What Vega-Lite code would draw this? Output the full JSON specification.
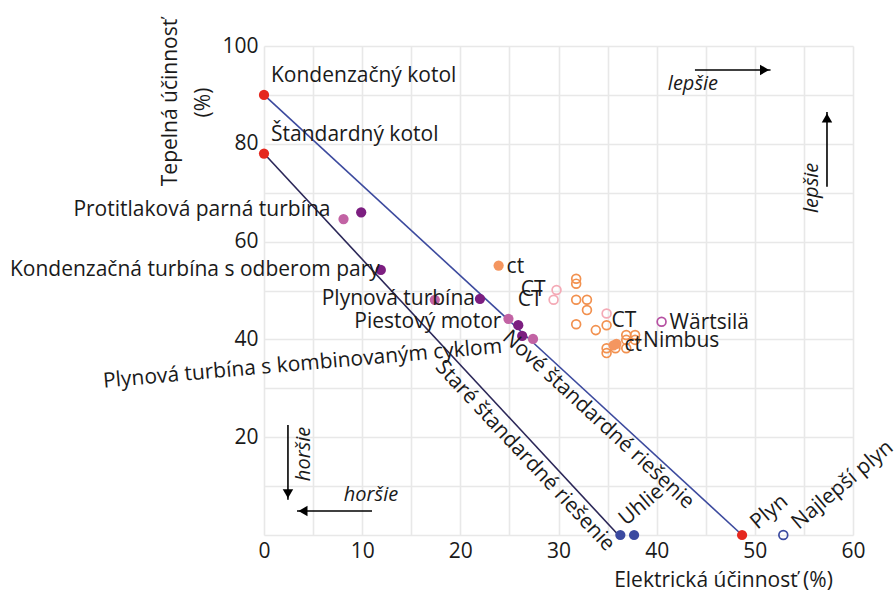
{
  "$schema": "https://vega.github.io/schema/vega-lite/v6.json",
  "width": 589,
  "height": 489,
  "autosize": "none",
  "padding": {"left": 264, "top": 46, "right": 42, "bottom": 58},
  "background": "white",
  "config": {
    "view": {"stroke": null},
    "font": "Open Sans",
    "axis": {
      "labelFont": "Open Sans",
      "labelFontSize": 21,
      "labelColor": "#1a1a1a",
      "labelFlush": false,
      "labelOverlap": false,
      "titleFont": "Open Sans",
      "titleFontSize": 21,
      "titleFontWeight": "normal",
      "titleColor": "#1a1a1a",
      "gridColor": "#e8e8e8",
      "gridWidth": 1.6,
      "ticks": false,
      "domain": false
    }
  },
  "datasets": {
    "pts": [
      {"x": 0, "y": 90, "g": "zaklad", "f": "filled"},
      {"x": 0, "y": 78, "g": "zaklad", "f": "filled"},
      {"x": 48.7, "y": 0, "g": "zaklad", "f": "filled"},
      {"x": 36.3, "y": 0, "g": "uhlie", "f": "filled"},
      {"x": 37.7, "y": 0, "g": "uhlie", "f": "filled"},
      {"x": 52.9, "y": 0, "g": "uhlie", "f": "open"},
      {"x": 8.1, "y": 64.6, "g": "tech_b", "f": "filled"},
      {"x": 9.9, "y": 66.0, "g": "tech_a", "f": "filled"},
      {"x": 11.9, "y": 54.2, "g": "tech_a", "f": "filled"},
      {"x": 17.4, "y": 48.1, "g": "tech_b", "f": "filled"},
      {"x": 22.0, "y": 48.3, "g": "tech_a", "f": "filled"},
      {"x": 24.9, "y": 44.2, "g": "tech_b", "f": "filled"},
      {"x": 25.9, "y": 42.9, "g": "tech_a", "f": "filled"},
      {"x": 26.3, "y": 40.7, "g": "tech_a", "f": "filled"},
      {"x": 27.4, "y": 40.1, "g": "tech_b", "f": "filled"},
      {"x": 23.9, "y": 55.1, "g": "ct", "f": "filled"},
      {"x": 29.8, "y": 50.1, "g": "ct_pale", "f": "open"},
      {"x": 29.5, "y": 48.1, "g": "ct_pale", "f": "open"},
      {"x": 34.9, "y": 45.3, "g": "ct_pale", "f": "open"},
      {"x": 31.8, "y": 52.4, "g": "ct_open", "f": "open"},
      {"x": 31.8, "y": 51.4, "g": "ct_open", "f": "open"},
      {"x": 31.8, "y": 48.1, "g": "ct_open", "f": "open"},
      {"x": 32.9, "y": 48.1, "g": "ct_open", "f": "open"},
      {"x": 32.9, "y": 46.0, "g": "ct_open", "f": "open"},
      {"x": 31.8, "y": 43.1, "g": "ct_open", "f": "open"},
      {"x": 33.8, "y": 41.9, "g": "ct_open", "f": "open"},
      {"x": 34.9, "y": 42.9, "g": "ct_open", "f": "open"},
      {"x": 36.9, "y": 40.9, "g": "ct_open", "f": "open"},
      {"x": 37.8, "y": 40.9, "g": "ct_open", "f": "open"},
      {"x": 36.9, "y": 39.9, "g": "ct_open", "f": "open"},
      {"x": 37.8, "y": 39.9, "g": "ct_open", "f": "open"},
      {"x": 34.9, "y": 38.2, "g": "ct_open", "f": "open"},
      {"x": 34.9, "y": 37.2, "g": "ct_open", "f": "open"},
      {"x": 35.8, "y": 38.2, "g": "ct_open", "f": "open"},
      {"x": 36.9, "y": 38.2, "g": "ct_open", "f": "open"},
      {"x": 35.9, "y": 39.1, "g": "ct", "f": "filled"},
      {"x": 35.6, "y": 38.8, "g": "ct", "f": "filled"},
      {"x": 40.5, "y": 43.6, "g": "wartsila", "f": "open"}
    ],
    "labs": [
      {"label": "Kondenzačný kotol", "x": 0, "y": 90},
      {"label": "Štandardný kotol", "x": 0, "y": 78},
      {"label": "Protitlaková parná turbína", "x": 8.1, "y": 64.6},
      {"label": "Kondenzačná turbína s odberom pary", "x": 11.9, "y": 54.2},
      {"label": "Plynová turbína", "x": 22.0, "y": 48.3},
      {"label": "Piestový motor", "x": 24.9, "y": 44.2},
      {"label": "Plynová turbína s kombinovaným cyklom", "x": 26.3, "y": 40.7},
      {"label": "ct", "x": 23.9, "y": 55.1},
      {"label": "CT", "x": 29.8, "y": 50.1},
      {"label": "CT", "x": 29.5, "y": 48.1},
      {"label": "CT ", "x": 34.9, "y": 45.3},
      {"label": "ct", "x": 35.9, "y": 39.1},
      {"label": "Nimbus", "x": 37.8, "y": 39.9},
      {"label": "Wärtsilä", "x": 40.5, "y": 43.6},
      {"label": "Nové štandardné riešenie", "x": 48.7, "y": 0},
      {"label": "Staré štandardné riešenie", "x": 36.3, "y": 0},
      {"label": "Uhlie", "x": 36.3, "y": 0},
      {"label": "Plyn", "x": 48.7, "y": 0},
      {"label": "Najlepší plyn", "x": 52.9, "y": 0}
    ],
    "lines": [
      {"s": "Staré štandardné riešenie", "x": 0, "y": 78, "x2": 36.1, "y2": 0},
      {"s": "Nové štandardné riešenie", "x": 0, "y": 90, "x2": 48.7, "y2": 0}
    ],
    "arrows": [
      {"name": "lepsie_h", "label": "lepšie", "x": 43.9, "y": 95.1, "x2": 51.6, "y2": 95.1},
      {"name": "lepsie_v", "label": "lepšie", "x": 57.35, "y": 71.2, "x2": 57.35, "y2": 86.5},
      {"name": "horsie_v", "label": "horšie", "x": 2.44, "y": 22.5, "x2": 2.44, "y2": 7.2},
      {"name": "horsie_h", "label": "horšie", "x": 11.0, "y": 4.9, "x2": 3.36, "y2": 4.9}
    ]
  },
  "layer": [
    {
      "data": {"name": "lines"},
      "transform": [{"filter": "datum.s === 'Staré štandardné riešenie'"}],
      "mark": {"type": "rule", "color": "#2b2758", "strokeWidth": 1.6},
      "encoding": {
        "x": {
          "field": "x", "type": "quantitative",
          "scale": {"domain": [0, 60], "nice": false, "zero": false},
          "axis": {
            "title": "Elektrická účinnosť (%)",
            "values": [0, 5, 10, 15, 20, 25, 30, 35, 40, 45, 50, 55, 60],
            "labelExpr": "datum.value % 10 === 0 ? datum.label : ''",
            "labelPadding": 5,
            "titleX": 459, "titleY": 45,
            "titleAlign": "center", "titleBaseline": "middle"
          }
        },
        "y": {
          "field": "y", "type": "quantitative",
          "scale": {"domain": [0, 100], "nice": false, "zero": false},
          "axis": {
            "title": ["Tepelná účinnosť", "(%)"],
            "values": [0, 10, 20, 30, 40, 50, 60, 70, 80, 90, 100],
            "labelExpr": "datum.value % 20 === 0 && datum.value > 0 ? datum.label : ''",
            "labelPadding": 6,
            "titleAngle": -90,
            "titleX": -94, "titleY": 56,
            "titleAlign": "center", "titleBaseline": "middle",
            "titleLineHeight": 33
          }
        },
        "x2": {"field": "x2"},
        "y2": {"field": "y2"}
      }
    },
    {
      "data": {"name": "lines"},
      "transform": [{"filter": "datum.s === 'Nové štandardné riešenie'"}],
      "mark": {"type": "rule", "color": "#3c4a9e", "strokeWidth": 1.6},
      "encoding": {
        "x": {"field": "x", "type": "quantitative"},
        "y": {"field": "y", "type": "quantitative"},
        "x2": {"field": "x2"},
        "y2": {"field": "y2"}
      }
    },
    {
      "data": {"name": "pts"},
      "transform": [{"filter": "datum.f === 'open'"}],
      "mark": {"type": "point", "shape": "circle", "filled": false, "size": 78, "strokeWidth": 1.7, "opacity": 1},
      "encoding": {
        "x": {"field": "x", "type": "quantitative"},
        "y": {"field": "y", "type": "quantitative"},
        "color": {
          "field": "g", "type": "nominal", "legend": null,
          "scale": {
            "domain": ["zaklad", "uhlie", "tech_a", "tech_b", "ct", "ct_open", "ct_pale", "wartsila"],
            "range": ["#e5281f", "#3b4aa0", "#7c1e80", "#c263a4", "#f49660", "#f2914f", "#f4aab6", "#b650a2"]
          }
        }
      }
    },
    {
      "data": {"name": "pts"},
      "transform": [{"filter": "datum.f === 'filled'"}],
      "mark": {"type": "point", "shape": "circle", "filled": true, "size": 105, "opacity": 1},
      "encoding": {
        "x": {"field": "x", "type": "quantitative"},
        "y": {"field": "y", "type": "quantitative"},
        "color": {"field": "g", "type": "nominal", "legend": null}
      }
    },
    {
      "data": {"name": "labs"},
      "transform": [{"filter": {"field": "label", "oneOf": ["Kondenzačný kotol", "Štandardný kotol"]}}],
      "mark": {"type": "text", "font": "Open Sans", "fontSize": 21, "color": "#1a1a1a", "align": "left", "baseline": "middle", "dx": 7, "dy": -18.5},
      "encoding": {
        "x": {"field": "x", "type": "quantitative"},
        "y": {"field": "y", "type": "quantitative"},
        "text": {"field": "label"}
      }
    },
    {
      "data": {"name": "labs"},
      "transform": [{"filter": "datum.label === 'Protitlaková parná turbína'"}],
      "mark": {"type": "text", "font": "Open Sans", "fontSize": 21, "color": "#1a1a1a", "align": "right", "baseline": "middle", "dx": -13, "dy": -9},
      "encoding": {
        "x": {"field": "x", "type": "quantitative"},
        "y": {"field": "y", "type": "quantitative"},
        "text": {"field": "label"}
      }
    },
    {
      "data": {"name": "labs"},
      "transform": [{"filter": "datum.label === 'Kondenzačná turbína s odberom pary'"}],
      "mark": {"type": "text", "font": "Open Sans", "fontSize": 21, "color": "#1a1a1a", "align": "right", "baseline": "middle", "dx": -1, "dy": 0},
      "encoding": {
        "x": {"field": "x", "type": "quantitative"},
        "y": {"field": "y", "type": "quantitative"},
        "text": {"field": "label"}
      }
    },
    {
      "data": {"name": "labs"},
      "transform": [{"filter": "datum.label === 'Plynová turbína'"}],
      "mark": {"type": "text", "font": "Open Sans", "fontSize": 21, "color": "#1a1a1a", "align": "right", "baseline": "middle", "dx": -5, "dy": 0},
      "encoding": {
        "x": {"field": "x", "type": "quantitative"},
        "y": {"field": "y", "type": "quantitative"},
        "text": {"field": "label"}
      }
    },
    {
      "data": {"name": "labs"},
      "transform": [{"filter": "datum.label === 'Piestový motor'"}],
      "mark": {"type": "text", "font": "Open Sans", "fontSize": 21, "color": "#1a1a1a", "align": "right", "baseline": "middle", "dx": -7, "dy": 3},
      "encoding": {
        "x": {"field": "x", "type": "quantitative"},
        "y": {"field": "y", "type": "quantitative"},
        "text": {"field": "label"}
      }
    },
    {
      "data": {"name": "labs"},
      "transform": [{"filter": "datum.label === 'CT'"}],
      "mark": {"type": "text", "font": "Open Sans", "fontSize": 21, "color": "#1a1a1a", "align": "right", "baseline": "middle", "dx": -11, "dy": 0},
      "encoding": {
        "x": {"field": "x", "type": "quantitative"},
        "y": {"field": "y", "type": "quantitative"},
        "text": {"field": "label"}
      }
    },
    {
      "data": {"name": "labs"},
      "transform": [{"filter": "datum.label === 'CT '"}],
      "mark": {"type": "text", "font": "Open Sans", "fontSize": 21, "color": "#1a1a1a", "align": "left", "baseline": "middle", "dx": 5, "dy": 8},
      "encoding": {
        "x": {"field": "x", "type": "quantitative"},
        "y": {"field": "y", "type": "quantitative"},
        "text": {"field": "label"}
      }
    },
    {
      "data": {"name": "labs"},
      "transform": [{"filter": {"field": "label", "oneOf": ["ct", "Nimbus", "Wärtsilä"]}}],
      "mark": {"type": "text", "font": "Open Sans", "fontSize": 21, "color": "#1a1a1a", "align": "left", "baseline": "middle", "dx": 8, "dy": 1},
      "encoding": {
        "x": {"field": "x", "type": "quantitative"},
        "y": {"field": "y", "type": "quantitative"},
        "text": {"field": "label"}
      }
    },
    {
      "data": {"name": "labs"},
      "transform": [{"filter": "datum.label === 'Plynová turbína s kombinovaným cyklom'"}],
      "mark": {"type": "text", "font": "Open Sans", "fontSize": 21, "color": "#1a1a1a", "align": "right", "baseline": "middle", "angle": -5, "dx": -21, "dy": 9},
      "encoding": {
        "x": {"field": "x", "type": "quantitative"},
        "y": {"field": "y", "type": "quantitative"},
        "text": {"field": "label"}
      }
    },
    {
      "data": {"name": "labs"},
      "transform": [{"filter": "datum.label === 'Nové štandardné riešenie'"}],
      "mark": {"type": "text", "font": "Open Sans", "fontSize": 21, "color": "#1a1a1a", "align": "right", "baseline": "middle", "angle": 42.7, "dx": -58, "dy": 13},
      "encoding": {
        "x": {"field": "x", "type": "quantitative"},
        "y": {"field": "y", "type": "quantitative"},
        "text": {"field": "label"}
      }
    },
    {
      "data": {"name": "labs"},
      "transform": [{"filter": "datum.label === 'Staré štandardné riešenie'"}],
      "mark": {"type": "text", "font": "Open Sans", "fontSize": 21, "color": "#1a1a1a", "align": "right", "baseline": "middle", "angle": 47, "dx": 3, "dy": 16},
      "encoding": {
        "x": {"field": "x", "type": "quantitative"},
        "y": {"field": "y", "type": "quantitative"},
        "text": {"field": "label"}
      }
    },
    {
      "data": {"name": "labs"},
      "transform": [{"filter": "datum.label === 'Uhlie'"}],
      "mark": {"type": "text", "font": "Open Sans", "fontSize": 21, "color": "#1a1a1a", "align": "left", "baseline": "middle", "angle": -40, "dx": 10, "dy": -9},
      "encoding": {
        "x": {"field": "x", "type": "quantitative"},
        "y": {"field": "y", "type": "quantitative"},
        "text": {"field": "label"}
      }
    },
    {
      "data": {"name": "labs"},
      "transform": [{"filter": {"field": "label", "oneOf": ["Plyn", "Najlepší plyn"]}}],
      "mark": {"type": "text", "font": "Open Sans", "fontSize": 21, "color": "#1a1a1a", "align": "left", "baseline": "middle", "angle": -40, "dx": 15, "dy": 0},
      "encoding": {
        "x": {"field": "x", "type": "quantitative"},
        "y": {"field": "y", "type": "quantitative"},
        "text": {"field": "label"}
      }
    },
    {
      "data": {"name": "arrows"},
      "mark": {"type": "rule", "color": "#000000", "strokeWidth": 1.6},
      "encoding": {
        "x": {"field": "x", "type": "quantitative"},
        "y": {"field": "y", "type": "quantitative"},
        "x2": {"field": "x2"},
        "y2": {"field": "y2"}
      }
    },
    {
      "data": {"name": "arrows"},
      "transform": [{"filter": "datum.name === 'lepsie_h'"}],
      "mark": {"type": "point", "shape": "triangle-right", "filled": true, "color": "#000000", "opacity": 1, "size": 110, "xOffset": -6},
      "encoding": {
        "x": {"field": "x2", "type": "quantitative"},
        "y": {"field": "y2", "type": "quantitative"}
      }
    },
    {
      "data": {"name": "arrows"},
      "transform": [{"filter": "datum.name === 'lepsie_v'"}],
      "mark": {"type": "point", "shape": "triangle-up", "filled": true, "color": "#000000", "opacity": 1, "size": 110, "yOffset": 6},
      "encoding": {
        "x": {"field": "x2", "type": "quantitative"},
        "y": {"field": "y2", "type": "quantitative"}
      }
    },
    {
      "data": {"name": "arrows"},
      "transform": [{"filter": "datum.name === 'horsie_v'"}],
      "mark": {"type": "point", "shape": "triangle-down", "filled": true, "color": "#000000", "opacity": 1, "size": 110, "yOffset": -6},
      "encoding": {
        "x": {"field": "x2", "type": "quantitative"},
        "y": {"field": "y2", "type": "quantitative"}
      }
    },
    {
      "data": {"name": "arrows"},
      "transform": [{"filter": "datum.name === 'horsie_h'"}],
      "mark": {"type": "point", "shape": "triangle-left", "filled": true, "color": "#000000", "opacity": 1, "size": 110, "xOffset": 6},
      "encoding": {
        "x": {"field": "x2", "type": "quantitative"},
        "y": {"field": "y2", "type": "quantitative"}
      }
    },
    {
      "data": {"name": "arrows"},
      "transform": [{"filter": "datum.name === 'lepsie_h'"}],
      "mark": {"type": "text", "font": "Open Sans", "fontSize": 20, "fontStyle": "italic", "color": "#1a1a1a", "align": "center", "baseline": "middle", "dx": -2, "dy": 14},
      "encoding": {
        "x": {"field": "x", "type": "quantitative"},
        "y": {"field": "y", "type": "quantitative"},
        "text": {"field": "label"}
      }
    },
    {
      "data": {"name": "arrows"},
      "transform": [{"filter": "datum.name === 'lepsie_v'"}],
      "mark": {"type": "text", "font": "Open Sans", "fontSize": 20, "fontStyle": "italic", "color": "#1a1a1a", "align": "center", "baseline": "middle", "angle": -90, "dx": -1, "dy": -15},
      "encoding": {
        "x": {"field": "x", "type": "quantitative"},
        "y": {"field": "y", "type": "quantitative"},
        "text": {"field": "label"}
      }
    },
    {
      "data": {"name": "arrows"},
      "transform": [{"filter": "datum.name === 'horsie_v'"}],
      "mark": {"type": "text", "font": "Open Sans", "fontSize": 20, "fontStyle": "italic", "color": "#1a1a1a", "align": "center", "baseline": "middle", "angle": -90, "dx": -29, "dy": 16},
      "encoding": {
        "x": {"field": "x", "type": "quantitative"},
        "y": {"field": "y", "type": "quantitative"},
        "text": {"field": "label"}
      }
    },
    {
      "data": {"name": "arrows"},
      "transform": [{"filter": "datum.name === 'horsie_h'"}],
      "mark": {"type": "text", "font": "Open Sans", "fontSize": 20, "fontStyle": "italic", "color": "#1a1a1a", "align": "center", "baseline": "middle", "dx": -1, "dy": -16},
      "encoding": {
        "x": {"field": "x", "type": "quantitative"},
        "y": {"field": "y", "type": "quantitative"},
        "text": {"field": "label"}
      }
    }
  ]
}
